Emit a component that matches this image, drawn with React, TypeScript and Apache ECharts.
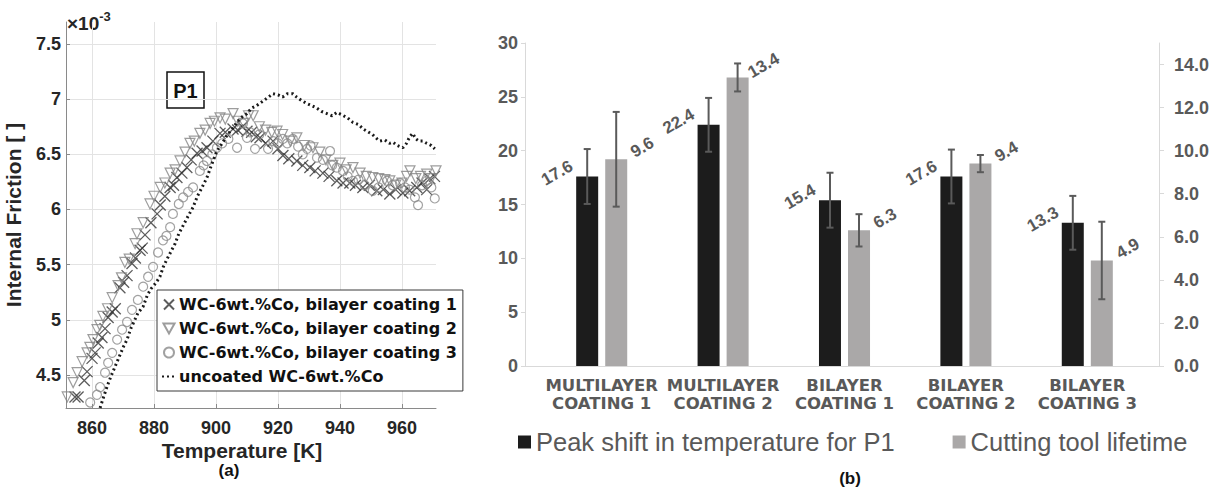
import React, { useEffect, useRef } from "react";
import * as echarts from "echarts";

// ---------- Panel (a): internal friction vs temperature (values in 1e-3) ----------
const coating1: number[][] = [
  [854.5, 4.3], [855.5, 4.3], [857.5, 4.45], [858.4, 4.53], [860, 4.65], [861, 4.7], [862, 4.79], [863.2, 4.84],
  [864.2, 4.92], [865.2, 5.02], [866.5, 5.07], [867.5, 5.1], [869, 5.29], [870.2, 5.34], [871.3, 5.4], [872.9, 5.51],
  [874, 5.56], [875.5, 5.63], [876.2, 5.65], [877.1, 5.77], [879, 5.88], [881, 5.96], [882, 6.04], [883.5, 6.12],
  [885.2, 6.2], [886.3, 6.22], [887.4, 6.29], [889, 6.33], [890.6, 6.38], [892, 6.45], [893.9, 6.51], [895.5, 6.53],
  [897.1, 6.56], [899, 6.62], [901.3, 6.69], [903, 6.7], [905.5, 6.73], [907, 6.72], [908.5, 6.75], [910, 6.71],
  [911.5, 6.7], [913, 6.66], [914.2, 6.65], [916, 6.6], [918.4, 6.62], [920, 6.55], [921.6, 6.49], [923.5, 6.46],
  [926.1, 6.44], [928, 6.4], [930.3, 6.38], [932, 6.35], [934.5, 6.33], [936.5, 6.3], [939, 6.26], [941, 6.24],
  [943.2, 6.24], [945, 6.22], [947.4, 6.2], [949.5, 6.22], [951.9, 6.17], [954, 6.18], [956.1, 6.14], [958, 6.18],
  [960.3, 6.15], [962.5, 6.17], [964.8, 6.2], [966.5, 6.24], [968, 6.18], [969, 6.28], [970.5, 6.3],
];
const coating2: number[][] = [
  [852, 4.3], [853.9, 4.43], [855.2, 4.52], [856.8, 4.62], [858.4, 4.7], [859.3, 4.75], [860.3, 4.82], [861.6, 4.91],
  [862.5, 4.95], [863.5, 5.03], [865, 5.1], [866.5, 5.2], [868.4, 5.31], [869.5, 5.38], [870.6, 5.52], [872, 5.55],
  [873.9, 5.69], [874.5, 5.78], [876.5, 5.88], [878.7, 6.05], [880, 6.12], [882, 6.2], [883.5, 6.24], [885.2, 6.33],
  [886.8, 6.36], [888.4, 6.44], [890, 6.52], [891.6, 6.6], [893, 6.62], [894.8, 6.69], [896.5, 6.72], [898.1, 6.78],
  [899.5, 6.8], [901.3, 6.83], [903, 6.82], [905.5, 6.87], [907, 6.8], [909, 6.78], [910.5, 6.85], [912, 6.85],
  [914, 6.75], [916, 6.72], [918, 6.7], [919.7, 6.71], [921.5, 6.68], [924, 6.62], [926.1, 6.65], [928.5, 6.58],
  [931.3, 6.56], [933.5, 6.52], [935.5, 6.45], [937.7, 6.4], [940, 6.42], [942, 6.36], [944.2, 6.38], [946.5, 6.33],
  [948.5, 6.3], [950.6, 6.29], [952.5, 6.28], [954.5, 6.27], [956.1, 6.26], [958, 6.22], [960, 6.24], [961.5, 6.3],
  [962.6, 6.35], [964.5, 6.28], [966, 6.3], [968, 6.32], [969.5, 6.28], [971, 6.35],
];
const coating3: number[][] = [
  [859.4, 4.25], [861.6, 4.32], [862.6, 4.39], [864.2, 4.52], [865.2, 4.61], [866.5, 4.7], [868.1, 4.82], [869.7, 4.91],
  [871.3, 4.98], [872.9, 5.09], [874.8, 5.18], [876.5, 5.3], [878.1, 5.39], [879.7, 5.48], [881.3, 5.61], [882.9, 5.72],
  [884, 5.76], [885.2, 5.84], [886.1, 5.96], [888, 6.05], [889.4, 6.11], [891, 6.16], [892.6, 6.2], [894.8, 6.35],
  [896, 6.4], [897.1, 6.44], [898.8, 6.5], [900.3, 6.56], [902, 6.6], [904, 6.64], [906.8, 6.56], [908.7, 6.78],
  [910, 6.65], [911, 6.7], [912.6, 6.55], [914, 6.68], [916.8, 6.55], [918.5, 6.62], [920, 6.6], [921.6, 6.64],
  [923, 6.6], [924.8, 6.64], [926.5, 6.57], [928, 6.5], [929.4, 6.55], [930.5, 6.58], [932.6, 6.47], [934.5, 6.45],
  [936.8, 6.53], [937.5, 6.4], [939, 6.38], [941, 6.35], [942.5, 6.3], [944.2, 6.26], [946, 6.27], [948, 6.22],
  [950.6, 6.17], [952.5, 6.2], [955.2, 6.26], [957, 6.22], [959.4, 6.24], [961, 6.2], [962.5, 6.18], [964.2, 6.11],
  [965.2, 6.04], [966.5, 6.22], [968, 6.26], [969.5, 6.2], [970.6, 6.1],
];
const uncoated: number[][] = [
  [862.6, 4.2], [863.5, 4.28], [864.8, 4.39], [866, 4.48], [867.5, 4.58], [869, 4.68], [870.2, 4.76], [871.3, 4.82],
  [872.5, 4.92], [873.5, 4.98], [874.8, 5.06], [876.5, 5.12], [877.8, 5.22], [879, 5.28], [880.5, 5.33], [881.9, 5.39],
  [883, 5.48], [884.2, 5.55], [885.5, 5.62], [886.8, 5.69], [888, 5.78], [889.5, 5.86], [891, 5.94], [892.6, 6.02],
  [894, 6.12], [895.5, 6.2], [897.1, 6.29], [898.5, 6.4], [900.3, 6.53], [902, 6.6], [903.5, 6.67], [905.5, 6.74],
  [907, 6.8], [908.5, 6.84], [910, 6.87], [911.5, 6.92], [913, 6.94], [914.5, 6.97], [916.5, 7.01], [918.4, 7.05],
  [920, 7.04], [921.5, 7.02], [923, 7.05], [924.8, 7.05], [926, 7.02], [927.5, 6.99], [929.4, 6.96], [931, 6.94],
  [932.5, 6.92], [934, 6.89], [935.8, 6.87], [937.5, 6.85], [939, 6.88], [940.5, 6.86], [942.5, 6.83], [944.2, 6.79],
  [946, 6.77], [947.5, 6.73], [948.7, 6.71], [950.5, 6.68], [952, 6.64], [952.9, 6.62], [954.5, 6.63], [956, 6.6],
  [957.1, 6.61], [958.5, 6.58], [960.3, 6.56], [961.5, 6.6], [962.5, 6.66], [963.5, 6.69], [964.5, 6.64], [965.5, 6.62],
  [966.8, 6.62], [968, 6.6], [969.5, 6.58], [970.6, 6.55],
];
const seriesNamesA = [
  "WC-6wt.%Co, bilayer coating 1",
  "WC-6wt.%Co, bilayer coating 2",
  "WC-6wt.%Co, bilayer coating 3",
  "uncoated WC-6wt.%Co",
];

// ---------- Panel (b): bars ----------
const categories = [
  "MULTILAYER\nCOATING 1",
  "MULTILAYER\nCOATING 2",
  "BILAYER\nCOATING 1",
  "BILAYER\nCOATING 2",
  "BILAYER\nCOATING 3",
];
const peakShift = [17.6, 22.4, 15.4, 17.6, 13.3];
const peakShiftErr = [2.55, 2.5, 2.55, 2.5, 2.5];
const lifetime = [9.6, 13.4, 6.3, 9.4, 4.9];
const lifetimeErr = [2.2, 0.65, 0.75, 0.4, 1.8];
const seriesNamesB = ["Peak shift in temperature for P1", "Cutting tool lifetime"];

const SANS = "Liberation Sans, Arial, sans-serif";
const BAR_HALF_OFFSET = 14.5;
const CROSS = "path://M0,0L10,10M10,0L0,10";
const DOWN_TRI = "path://M0,0L10,0L5,9Z";

function errorBarSeries(values: number[], errs: number[], yAxisIndex: number, dx: number) {
  return {
    type: "custom",
    xAxisIndex: 1,
    yAxisIndex,
    z: 5,
    silent: true,
    data: values.map((v, i) => [i, v, errs[i]]),
    encode: { x: 0, y: 1 },
    renderItem: (params: any, api: any) => {
      const idx = api.value(0);
      const v = api.value(1);
      const e = api.value(2);
      const hi = api.coord([idx, v + e]);
      const lo = api.coord([idx, v - e]);
      const x = hi[0] + dx;
      const cap = 3.5;
      const style = { stroke: "#5a5a5a", lineWidth: 2 };
      return {
        type: "group",
        children: [
          { type: "line", shape: { x1: x, y1: hi[1], x2: x, y2: lo[1] }, style },
          { type: "line", shape: { x1: x - cap, y1: hi[1], x2: x + cap, y2: hi[1] }, style },
          { type: "line", shape: { x1: x - cap, y1: lo[1], x2: x + cap, y2: lo[1] }, style },
        ],
      };
    },
  };
}

export default function App() {
  const ref = useRef<HTMLDivElement>(null);
  useEffect(() => {
    document.body.style.margin = "0";
    const chart = echarts.init(ref.current!, undefined, { renderer: "svg" });
    const option: any = {
      animation: false,
      backgroundColor: "#ffffff",
      textStyle: { fontFamily: SANS },
      grid: [
        { left: 66, top: 22, width: 370, height: 386 },
        { left: 541, top: 43, width: 607, height: 323 },
      ],
      legend: [
        {
          data: seriesNamesA.map((n, i) => (i === 3 ? { name: n, itemStyle: { opacity: 0 } } : { name: n })),
          orient: "vertical",
          left: 157,
          top: 290,
          backgroundColor: "#ffffff",
          borderColor: "#3a3a3a",
          borderWidth: 1,
          padding: [5, 6, 5, 4],
          itemGap: 5,
          itemWidth: 14,
          itemHeight: 10,
          selectedMode: false,
          z: 10,
          textStyle: { fontFamily: "DejaVu Sans", fontWeight: "bold", fontSize: 16, color: "#111", lineHeight: 19, padding: [0, 0, 0, -2] },
        },
        {
          data: seriesNamesB,
          left: 513,
          top: 423,
          icon: "rect",
          itemWidth: 13,
          itemHeight: 13,
          itemGap: 58,
          selectedMode: false,
          textStyle: { fontFamily: SANS, fontSize: 25.5, color: "#595959", lineHeight: 28 },
        },
      ],
      xAxis: [
        {
          gridIndex: 0,
          type: "value",
          min: 851.6,
          max: 971,
          splitNumber: 6,
          axisLine: { show: true, lineStyle: { color: "#8a8a8a" } },
          axisTick: { show: true, inside: true, length: 4, lineStyle: { color: "#8a8a8a" } },
          axisLabel: { fontSize: 18, fontWeight: "bold", color: "#262626", margin: 11, showMinLabel: false, showMaxLabel: false },
          splitLine: { show: true, showMinLine: false, showMaxLine: false, lineStyle: { color: "#e3e3e3" } },
        },
        {
          gridIndex: 1,
          type: "category",
          data: categories,
          axisLine: { show: false },
          axisTick: { show: false },
          axisLabel: {
            interval: 0,
            fontFamily: "DejaVu Sans",
            fontWeight: "bold",
            fontSize: 16.5,
            color: "#595959",
            lineHeight: 17.5,
            margin: 11,
          },
        },
      ],
      yAxis: [
        {
          gridIndex: 0,
          type: "value",
          min: 4.2,
          max: 7.7,
          splitNumber: 7,
          name: "Internal Friction [ ]",
          nameLocation: "middle",
          nameGap: 42,
          nameTextStyle: { fontSize: 21, fontWeight: "bold", color: "#262626" },
          axisLine: { show: true, lineStyle: { color: "#8a8a8a" } },
          axisTick: { show: true, inside: true, length: 4, lineStyle: { color: "#8a8a8a" } },
          axisLabel: { fontSize: 18, fontWeight: "bold", color: "#262626", margin: 5, showMinLabel: false, showMaxLabel: false },
          splitLine: { show: true, showMinLine: false, showMaxLine: false, lineStyle: { color: "#e3e3e3" } },
        },
        {
          gridIndex: 1,
          type: "value",
          min: 0,
          max: 30,
          interval: 5,
          position: "left",
          offset: 16,
          axisLine: { show: true, lineStyle: { color: "#d9d9d9" } },
          axisTick: { show: true, length: 4, lineStyle: { color: "#d9d9d9" } },
          axisLabel: { fontSize: 18, fontWeight: "bold", color: "#595959", margin: 7 },
          splitLine: { show: false },
        },
        {
          gridIndex: 1,
          type: "value",
          min: 0,
          max: 15,
          interval: 2,
          position: "right",
          offset: 11,
          axisLine: { show: true, lineStyle: { color: "#d9d9d9" } },
          axisTick: { show: true, length: 5, lineStyle: { color: "#d9d9d9" } },
          axisLabel: {
            fontSize: 18,
            fontWeight: "bold",
            color: "#595959",
            margin: 15,
            showMaxLabel: false,
            formatter: (v: number) => v.toFixed(1),
          },
          splitLine: { show: false },
        },
      ],
      series: [
        {
          name: seriesNamesA[0],
          type: "scatter",
          xAxisIndex: 0,
          yAxisIndex: 0,
          data: coating1,
          symbol: CROSS,
          symbolSize: 11,
          itemStyle: { color: "rgba(0,0,0,0)", borderColor: "#333333", borderWidth: 1.3 },
        },
        {
          name: seriesNamesA[1],
          type: "scatter",
          xAxisIndex: 0,
          yAxisIndex: 0,
          data: coating2,
          symbol: DOWN_TRI,
          symbolSize: 10,
          itemStyle: { color: "rgba(255,255,255,0)", borderColor: "#858585", borderWidth: 1.2 },
        },
        {
          name: seriesNamesA[2],
          type: "scatter",
          xAxisIndex: 0,
          yAxisIndex: 0,
          data: coating3,
          symbol: "circle",
          symbolSize: 9,
          itemStyle: { color: "rgba(255,255,255,0)", borderColor: "#8a8a8a", borderWidth: 1.2 },
        },
        {
          name: seriesNamesA[3],
          type: "line",
          xAxisIndex: 0,
          yAxisIndex: 0,
          data: uncoated,
          showSymbol: false,
          symbol: "none",
          z: 4,
          lineStyle: { color: "#1a1a1a", width: 3, type: [2, 3] },
          itemStyle: { color: "#1a1a1a" },
        },
        {
          name: seriesNamesB[0],
          type: "bar",
          xAxisIndex: 1,
          yAxisIndex: 1,
          data: peakShift,
          barWidth: 22,
          barGap: "32%",
          itemStyle: { color: "#1c1c1c" },
          label: {
            show: true,
            position: [-19, -3.5],
            rotate: 30,
            align: "center",
            verticalAlign: "middle",
            fontSize: 17,
            fontWeight: "bold",
            color: "#595959",
            fontFamily: SANS,
          },
        },
        {
          name: seriesNamesB[1],
          type: "bar",
          xAxisIndex: 1,
          yAxisIndex: 2,
          data: lifetime,
          barWidth: 22,
          barGap: "32%",
          itemStyle: { color: "#aaa8a8" },
          label: {
            show: true,
            position: [37, -12],
            rotate: 30,
            align: "center",
            verticalAlign: "middle",
            fontSize: 17,
            fontWeight: "bold",
            color: "#595959",
            fontFamily: SANS,
          },
        },
        errorBarSeries(peakShift, peakShiftErr, 1, -BAR_HALF_OFFSET),
        errorBarSeries(lifetime, lifetimeErr, 2, BAR_HALF_OFFSET),
      ],
      graphic: [
        {
          type: "line",
          shape: { x1: 522, y1: 366.5, x2: 1160, y2: 366.5 },
          style: { stroke: "#d9d9d9", lineWidth: 1 },
          z: 1,
        },
        {
          type: "group",
          z: 20,
          children: [
            { type: "rect", shape: { x: 167, y: 72, width: 37, height: 36 }, style: { fill: "#fff", stroke: "#111", lineWidth: 1.5 } },
            {
              type: "text",
              x: 185.5,
              y: 90.5,
              style: { text: "P1", fontSize: 20, fontWeight: "bold", fontFamily: SANS, fill: "#111", align: "center", verticalAlign: "middle" },
            },
          ],
        },
        {
          type: "text",
          x: 67,
          y: 21,
          style: {
            text: "{a|×10}{b|-3}",
            verticalAlign: "middle",
            rich: {
              a: { fontSize: 19, fontFamily: SANS, fill: "#262626", fontWeight: "bold", verticalAlign: "bottom" },
              b: { fontSize: 13, fontFamily: SANS, fill: "#262626", fontWeight: "bold", verticalAlign: "top", padding: [0, 0, 10, 0] },
            },
          },
        },
        {
          type: "text",
          x: 242,
          y: 450,
          style: { text: "Temperature [K]", fontSize: 21, fontWeight: "bold", fontFamily: SANS, fill: "#262626", align: "center", verticalAlign: "middle" },
        },
        {
          type: "text",
          x: 229,
          y: 470,
          style: { text: "(a)", fontSize: 17, fontWeight: "bold", fontFamily: SANS, fill: "#111", align: "center", verticalAlign: "middle" },
        },
        {
          type: "text",
          x: 850,
          y: 478,
          style: { text: "(b)", fontSize: 17, fontWeight: "bold", fontFamily: SANS, fill: "#111", align: "center", verticalAlign: "middle" },
        },
      ],
    };
    chart.setOption(option);
    return () => chart.dispose();
  }, []);
  return <div ref={ref} style={{ position: "fixed", left: 0, top: 0, width: 1218, height: 490 }} />;
}
